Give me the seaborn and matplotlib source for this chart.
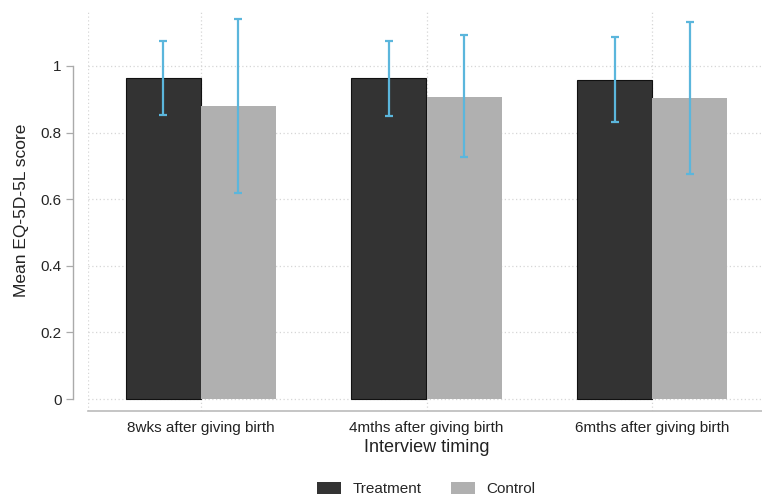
import numpy as np
import pandas as pd
import matplotlib
matplotlib.use("Agg")
import matplotlib.pyplot as plt
import seaborn as sns
from matplotlib.patches import Patch

# Mean EQ-5D-5L score by interview timing and arm, with 95% CI bounds
timing = ["8wks after giving birth", "4mths after giving birth", "6mths after giving birth"]
groups = ["Treatment", "Control"]
treatment_mean = [0.964, 0.964, 0.958]
treatment_low = [0.853, 0.850, 0.832]
treatment_high = [1.075, 1.075, 1.087]
control_mean = [0.880, 0.907, 0.903]
control_low = [0.619, 0.727, 0.676]
control_high = [1.141, 1.093, 1.132]
yticks = [0, 0.2, 0.4, 0.6, 0.8, 1]
ytick_labels = ["0", "0.2", "0.4", "0.6", "0.8", "1"]

df = pd.DataFrame({
    "timing": timing * 2,
    "group": [groups[0]] * 3 + [groups[1]] * 3,
    "mean": treatment_mean + control_mean,
    "low": treatment_low + control_low,
    "high": treatment_high + control_high,
})

sns.set_theme(style="white")
plt.rcParams["font.family"] = ["Liberation Sans", "DejaVu Sans"]

palette = {"Treatment": "#333333", "Control": "#b0b0b0"}
fig = plt.figure(figsize=(7.62, 4.98), dpi=100)
ax = fig.add_axes([88 / 762, 1 - 411 / 498, 677 / 762, 401 / 498])

sns.barplot(data=df, x="timing", y="mean", hue="group", order=timing,
            hue_order=groups, palette=palette, width=0.667, errorbar=None,
            saturation=1, legend=False, ax=ax, zorder=2)

# Edges: dark outline on treatment bars only
for bar, g in zip(ax.patches, [groups[0]] * 3 + [groups[1]] * 3):
    if g == "Treatment":
        bar.set_edgecolor("#111111")
        bar.set_linewidth(0.8)
    else:
        bar.set_edgecolor("none")

# Confidence intervals at each bar centre
for bar, (_, row) in zip(ax.patches, df.iterrows()):
    cx = bar.get_x() + bar.get_width() / 2
    ax.errorbar(cx, row["mean"],
                yerr=[[row["mean"] - row["low"]], [row["high"] - row["mean"]]],
                fmt="none", ecolor="#5bb6dc", elinewidth=1.6, capsize=3.2,
                capthick=1.6, zorder=3)

ax.set_xlim(-0.5, 2.5)
ax.set_ylim(-0.036, 1.168)
ax.set_yticks(yticks)
ax.set_yticklabels(ytick_labels, fontsize=11.5, color="#222222")
ax.tick_params(axis="x", length=0, pad=7, labelsize=11, labelcolor="#222222")
ax.tick_params(axis="y", length=5, width=0.9, color="#aaaaaa", pad=3, left=True)

# Dotted grid
for y in yticks:
    ax.axhline(y, color="#d6d6d6", lw=0.9, ls=(0, (1, 2)), zorder=0)
for x in [-0.5, 0, 1, 2, 2.5]:
    ax.axvline(x, color="#d6d6d6", lw=0.9, ls=(0, (1, 2)), zorder=0)

for s in ["top", "right"]:
    ax.spines[s].set_visible(False)
ax.spines["left"].set_position(("outward", 11))
ax.spines["left"].set_bounds(0, 1)
ax.spines["left"].set_color("#aaaaaa")
ax.spines["left"].set_linewidth(1.0)
ax.spines["bottom"].set_color("#bbbbbb")
ax.spines["bottom"].set_linewidth(1.2)

ax.set_ylabel("Mean EQ-5D-5L score", fontsize=12.5, color="#222222", labelpad=8)
ax.set_xlabel("Interview timing", fontsize=13, color="#222222", labelpad=3)

handles = [Patch(facecolor=palette[g], edgecolor="none") for g in groups]
fig.legend(handles, groups, loc="center", bbox_to_anchor=(426 / 762, 1 - 489 / 498),
           ncol=2, frameon=False, fontsize=11, handlelength=1.6, handleheight=0.8,
           columnspacing=1.9, handletextpad=0.75)

fig.savefig("out.png", dpi=100)
